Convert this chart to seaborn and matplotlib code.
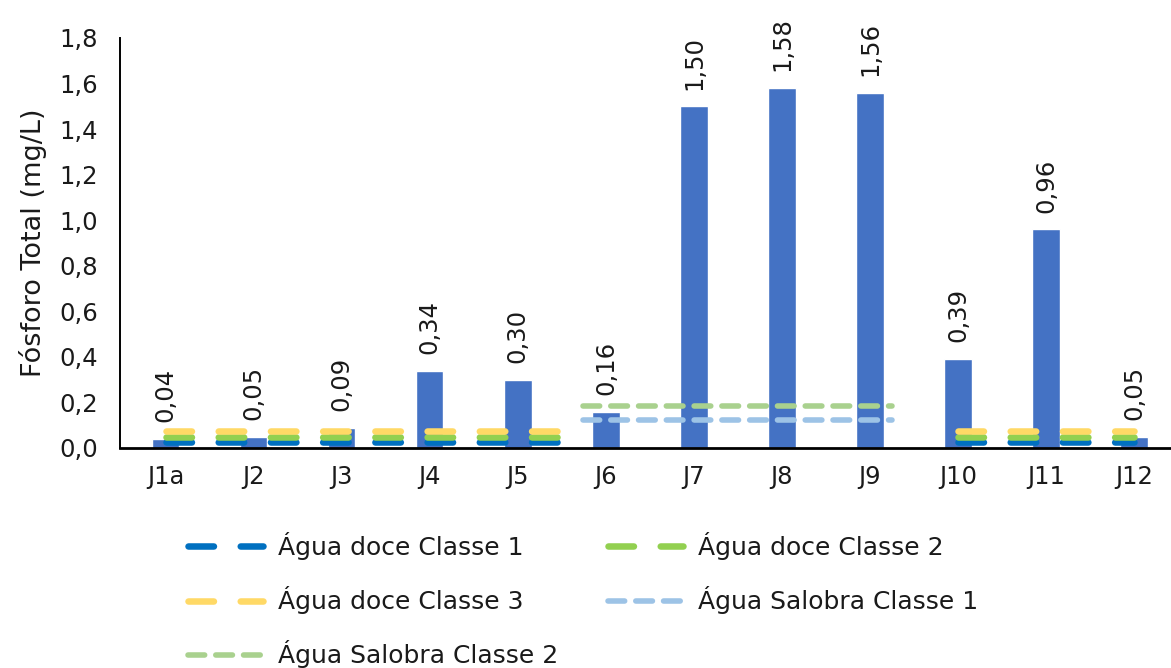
import matplotlib
matplotlib.use("Agg")
import matplotlib.pyplot as plt
import seaborn as sns

# stations and total phosphorus (mg/L)
stations = ["J1a", "J2", "J3", "J4", "J5", "J6", "J7", "J8", "J9", "J10", "J11", "J12"]
fosforo = [0.04, 0.05, 0.09, 0.34, 0.30, 0.16, 1.50, 1.58, 1.56, 0.39, 0.96, 0.05]

# CONAMA limits
doce_labels = ["Água doce Classe 1", "Água doce Classe 2", "Água doce Classe 3"]
doce_limits = [0.025, 0.05, 0.075]
salobra_labels = ["Água Salobra Classe 1", "Água Salobra Classe 2"]
salobra_limits = [0.124, 0.186]

yticks = [0.0, 0.2, 0.4, 0.6, 0.8, 1.0, 1.2, 1.4, 1.6, 1.8]

sns.set_style("white")
plt.rcParams["font.family"] = ["DejaVu Sans"]
text_color = "#1a1a1a"

fig = plt.figure(figsize=(11.71, 6.68), dpi=100)
ax = fig.add_axes([120 / 1171, 220 / 668, 1051 / 1171, 410 / 668])

sns.barplot(x=stations, y=fosforo, color="#4472C4", saturation=1, width=0.31, ax=ax, zorder=2)

# value labels
for i, v in enumerate(fosforo):
    ax.annotate(f"{v:.2f}".replace(".", ","), (i, v), xytext=(0, 12), textcoords="offset points",
                rotation=90, ha="center", va="bottom", fontsize=17.5, color=text_color)

# reference lines
doce_colors = ["#0070C0", "#92D050", "#FFD966"]
salobra_colors = ["#9DC3E6", "#A9D18E"]
doce_spans = [(0, 4.5), (9, 11)]
salobra_span = (4.74, 8.25)
doce_style = (0, (3.9, 4.1))
salobra_style = (0, (3.0, 2.0))

handles = {}
for lab, lim, col in zip(doce_labels, doce_limits, doce_colors):
    for x0, x1 in doce_spans:
        h, = ax.plot([x0, x1], [lim, lim], color=col, lw=4.7, linestyle=doce_style,
                     dash_capstyle="round", zorder=3, label=lab)
    handles[lab] = h
for lab, lim, col in zip(salobra_labels, salobra_limits, salobra_colors):
    x0, x1 = salobra_span
    h, = ax.plot([x0, x1], [lim, lim], color=col, lw=4.0, linestyle=salobra_style,
                 dash_capstyle="round", zorder=3, label=lab)
    handles[lab] = h

ax.set_xlim(-0.52, 11.42)
ax.set_ylim(0, 1.8)
ax.set_yticks(yticks)
ax.set_yticklabels([f"{t:.1f}".replace(".", ",") for t in yticks])
ax.tick_params(axis="y", length=0, pad=16, labelsize=17.5, labelcolor=text_color)
ax.tick_params(axis="x", length=0, pad=12, labelsize=17.5, labelcolor=text_color)
ax.set_ylabel("Fósforo Total (mg/L)", fontsize=19.5, color=text_color, labelpad=9)

sns.despine(ax=ax)
ax.spines["left"].set_color("black")
ax.spines["left"].set_linewidth(1.4)
ax.spines["bottom"].set_color("black")
ax.spines["bottom"].set_linewidth(2.0)

order = ["Água doce Classe 1", "Água doce Classe 3", "Água Salobra Classe 2",
         "Água doce Classe 2", "Água Salobra Classe 1"]
leg = fig.legend([handles[k] for k in order], order, loc="upper left",
                 bbox_to_anchor=(188 / 1171, 1 - 532 / 668), ncol=2, frameon=False,
                 fontsize=18, handlelength=3.0, handletextpad=0.6, columnspacing=2.0,
                 labelspacing=1.05, borderpad=0, borderaxespad=0)
for t in leg.get_texts():
    t.set_color(text_color)

fig.savefig("out.png", dpi=100)
